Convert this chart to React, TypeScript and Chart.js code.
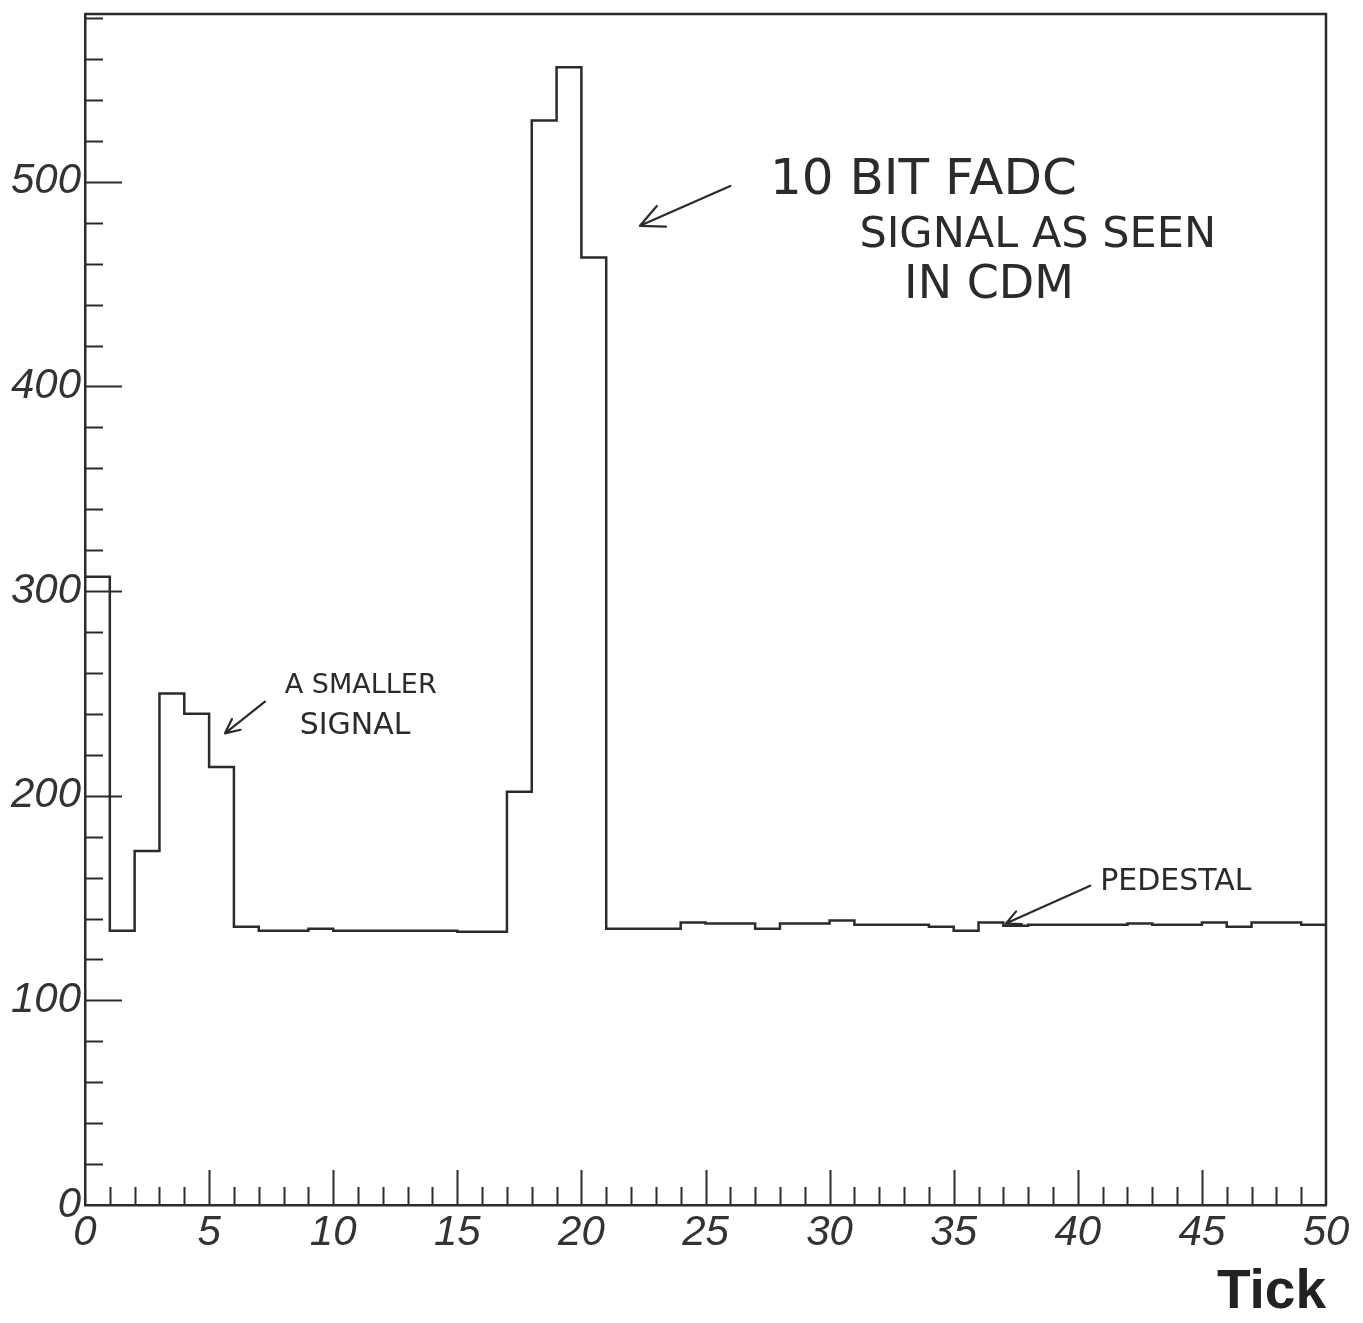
import React, { useEffect, useRef } from 'react';
import { Chart, registerables } from 'chart.js';

Chart.register(...registerables);

// Histogram: FADC counts per tick (bins of width 1, from 0 to 50)
const binStarts = Array.from({ length: 50 }, (_, i) => i);
const counts = [
  307, 134, 173, 250, 240, 214, 136, 134, 134, 135,
  134, 134, 134, 134, 134, 133.5, 133.5, 202, 530, 556,
  463, 135, 135, 135, 138, 137.5, 137.5, 135, 137.5, 137.5,
  139, 137, 137, 137, 136, 134, 138, 136.5, 137, 137,
  137, 137, 137.5, 137, 137, 138, 136, 138, 138, 137,
];
const xMin = 0;
const xMax = 50;
const yMin = 0;
const yMax = 582;
const xMajorStep = 5;
const yMajorStep = 100;
const xMinorStep = 1;
const yMinorStep = 20;
const xTitle = 'Tick';

// Hand-written annotations (text lines anchored in data coordinates)
const noteBigLines = ['10 BIT FADC', 'SIGNAL AS SEEN', 'IN CDM'];
const noteSmallLines = ['A SMALLER', 'SIGNAL'];
const notePedestal = ['PEDESTAL'];

const INK = '#2b2b2b';

const decorPlugin = {
  id: 'rootDecor',
  afterDraw(chart: any) {
    const { ctx, chartArea, scales } = chart;
    const xs = scales.x;
    const ys = scales.y;
    const { left, right, top, bottom } = chartArea;
    ctx.save();
    ctx.strokeStyle = INK;
    ctx.lineCap = 'butt';

    // frame (top + right)
    ctx.lineWidth = 2.5;
    ctx.beginPath();
    ctx.moveTo(left, top);
    ctx.lineTo(right, top);
    ctx.lineTo(right, bottom);
    ctx.stroke();

    // inward ticks on y axis
    ctx.lineWidth = 2;
    for (let v = yMin; v <= yMax + 1e-6; v += yMinorStep) {
      if (v === 0) continue;
      const py = Math.round(ys.getPixelForValue(v)) + 0.5;
      const len = v % yMajorStep === 0 ? 37 : 18;
      ctx.beginPath();
      ctx.moveTo(left, py);
      ctx.lineTo(left + len, py);
      ctx.stroke();
    }
    // inward ticks on x axis
    for (let v = xMin; v <= xMax + 1e-6; v += xMinorStep) {
      if (v === xMin || v === xMax) continue;
      const px = Math.round(xs.getPixelForValue(v)) + 0.5;
      const len = v % xMajorStep === 0 ? 35 : 18;
      ctx.beginPath();
      ctx.moveTo(px, bottom);
      ctx.lineTo(px, bottom - len);
      ctx.stroke();
    }

    // annotations
    const P = (x: number, y: number) => [xs.getPixelForValue(x), ys.getPixelForValue(y)];
    const arrow = (tx: number, ty: number, hx: number, hy: number, head: number) => {
      const [x1, y1] = P(tx, ty);
      const [x2, y2] = P(hx, hy);
      const ang = Math.atan2(y2 - y1, x2 - x1);
      ctx.lineWidth = 2.2;
      ctx.lineCap = 'round';
      ctx.beginPath();
      ctx.moveTo(x1, y1);
      ctx.lineTo(x2, y2);
      ctx.moveTo(x2, y2);
      ctx.lineTo(x2 - head * Math.cos(ang - 0.45), y2 - head * Math.sin(ang - 0.45));
      ctx.moveTo(x2, y2);
      ctx.lineTo(x2 - head * Math.cos(ang + 0.45), y2 - head * Math.sin(ang + 0.45));
      ctx.stroke();
    };
    ctx.fillStyle = INK;
    ctx.textAlign = 'left';
    ctx.textBaseline = 'alphabetic';
    const txt = (s: string, x: number, y: number, size: number) => {
      const [px, py] = P(x, y);
      ctx.font = `${size}px "DejaVu Sans"`;
      ctx.fillText(s, px, py);
    };
    txt(noteBigLines[0], 27.6, 494, 50);
    txt(noteBigLines[1], 31.2, 468, 43);
    txt(noteBigLines[2], 33.0, 443, 46);
    arrow(26.0, 498, 22.36, 478.5, 26);

    txt(noteSmallLines[0], 8.05, 250, 27);
    txt(noteSmallLines[1], 8.65, 230, 30);
    arrow(7.25, 246, 5.64, 230.5, 16);

    txt(notePedestal[0], 40.9, 154, 30);
    arrow(40.5, 156, 37.1, 137.5, 16);

    ctx.restore();
  },
};

export default function App() {
  const ref = useRef<HTMLCanvasElement>(null);
  useEffect(() => {
    if (!ref.current) return;
    const data = binStarts.map((x, i) => ({ x, y: counts[i] }));
    data.push({ x: xMax, y: counts[counts.length - 1] });
    const tickFont = { family: '"Liberation Sans", Arial, sans-serif', size: 42, style: 'italic' as const };
    const chart = new Chart(ref.current, {
      type: 'line',
      data: {
        datasets: [
          {
            data,
            stepped: 'before',
            borderColor: INK,
            borderWidth: 2.5,
            pointRadius: 0,
            fill: false,
          },
        ],
      },
      options: {
        animation: false,
        responsive: false,
        events: [],
        layout: { padding: { top: 14, right: 37, left: 0, bottom: 0 } },
        plugins: { legend: { display: false }, tooltip: { enabled: false } },
        scales: {
          x: {
            type: 'linear',
            min: xMin,
            max: xMax,
            grid: { display: false, drawTicks: false },
            border: { display: true, color: INK, width: 2.5 },
            ticks: {
              stepSize: xMajorStep,
              color: '#333',
              font: tickFont,
              padding: 3,
              maxRotation: 0,
              autoSkip: false,
              includeBounds: false,
            },
            title: {
              display: true,
              text: xTitle,
              align: 'end',
              color: '#222',
              font: { family: '"Liberation Sans", Arial, sans-serif', size: 55, weight: 'bold' },
              padding: { top: 0, bottom: -3 },
            },
            afterFit: (scale: any) => {
              scale.height = 118;
              scale.paddingLeft = 0;
              scale.paddingRight = 0;
            },
          },
          y: {
            type: 'linear',
            min: yMin,
            max: yMax,
            grid: { display: false, drawTicks: false },
            border: { display: true, color: INK, width: 2.5 },
            ticks: {
              stepSize: yMajorStep,
              color: '#333',
              font: tickFont,
              padding: 4,
              autoSkip: false,
              includeBounds: false,
            },
            afterFit: (scale: any) => {
              scale.width = 85;
              scale.paddingTop = 0;
              scale.paddingBottom = 0;
            },
          },
        },
      } as any,
      plugins: [decorPlugin],
    });
    return () => chart.destroy();
  }, []);
  return (
    <div style={{ position: 'absolute', left: 0, top: 0, width: 1363, height: 1323, background: '#fff' }}>
      <canvas ref={ref} width={1363} height={1323} style={{ display: 'block' }} />
    </div>
  );
}
